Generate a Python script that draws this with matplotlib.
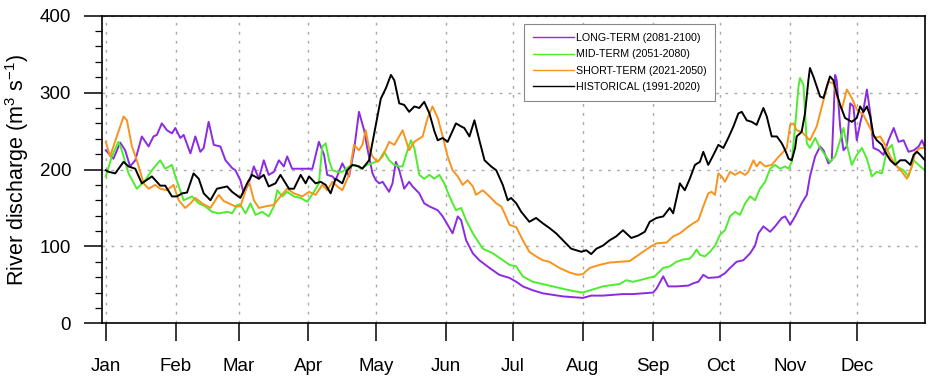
import matplotlib
matplotlib.use('Agg')
import matplotlib.pyplot as plt

plt.rcParams['font.family'] = ['Liberation Sans', 'DejaVu Sans']
plt.rcParams['mathtext.default'] = 'regular'

months = ['Jan', 'Feb', 'Mar', 'Apr', 'May', 'Jun', 'Jul', 'Aug', 'Sep', 'Oct', 'Nov', 'Dec']
month_start = [0, 31, 59, 90, 120, 151, 181, 212, 243, 273, 304, 334]

# day of year (Jan 1 = 0) / discharge
hist_days = [0, 1.2, 4.2, 7.9, 10.1, 13.1, 16, 20.5, 24.2, 26.4, 29.4, 31.6, 33.9, 36.1, 39, 41.3, 43.5, 46.5,
             49.4, 53.9, 56.1, 59.8, 62.8, 65, 68, 70.2, 72.4, 75.4, 77.6, 81.4, 83.6, 86.6, 88.8, 90.3, 93.2,
             95.5, 97.7, 99.9, 102.1, 105.1, 107.3, 109.6, 112.5, 114, 117, 120, 122.2, 124.5, 126.7, 128.2,
             130.4, 132.6, 134.8, 137.1, 139.3, 141.5, 143.8, 146, 147.5, 149.7, 151.9, 155.6, 157.9, 159.3,
             161.6, 163.8, 166, 168.3, 171.2, 173.5, 176.4, 178.6, 180.1, 182.4, 184.6, 188.2, 191.2, 194.2,
             197.1, 200.1, 203.8, 206.8, 209, 211.3, 213.5, 215.7, 218, 220.9, 223.9, 226.8, 229.8, 233.5,
             236.5, 239.5, 241.7, 244.7, 247.7, 250.6, 252.1, 255.1, 257.3, 259.5, 261.8, 264, 265.5, 267.7,
             270, 272.2, 274.4, 276.6, 278.9, 281.1, 282.6, 284.8, 287, 289.2, 292.2, 293.7, 295.9, 298.2,
             300.4, 301.9, 303.4, 304.8, 306.3, 307, 309.2, 310.7, 312.2, 312.9, 314.4, 315.9, 317.4, 318.9,
             320.4, 321.8, 323.3, 324.8, 326.3, 328.5, 331.5, 333.7, 335.2, 336.7, 338.2, 339.7, 341.1, 342.6,
             344.9, 346.3, 348.6, 350.8, 353, 355.3, 357.5, 359, 360.5, 361.9, 364]
hist_vals = [199, 197, 195, 210, 204, 201, 182, 191, 179, 179, 165, 165, 169, 170, 195, 188, 169, 160,
             175, 178, 171, 163, 182, 193, 188, 193, 178, 182, 193, 175, 175, 193, 182, 191, 182,
             184, 180, 169, 188, 182, 199, 206, 204, 201, 212, 258, 292, 306, 323, 316,
             286, 284, 275, 282, 280, 288, 273, 250, 238, 241, 236, 260, 256, 254,
             243, 264, 238, 212, 204, 199, 180, 160, 163, 156, 145, 132, 137, 130,
             124, 117, 106, 97, 95, 93, 95, 90, 97, 101, 108, 113, 121, 111,
             114, 119, 132, 137, 139, 150, 143, 182, 173, 188, 206, 210, 223, 206,
             219, 232, 228, 241, 256, 273, 275, 264, 262, 258, 280, 269, 243, 243,
             234, 225, 214, 212, 228, 243, 249, 273, 316, 332, 321, 308, 295, 293,
             308, 321, 316, 299, 284, 267, 262, 267, 282, 275, 282, 269, 245, 238,
             232, 223, 212, 206, 212, 212, 206, 219, 223, 219, 212]

short_days = [0, 1.9, 4.9, 7.9, 9.4, 11.6, 13.8, 16.8, 19, 22, 24.2, 27.2, 30.1, 32.4, 35.3, 37.6, 39.8, 42.8,
              46.5, 50.2, 52.4, 54.6, 57.6, 59.8, 61.3, 63.5, 65.8, 68, 71, 74.7, 77.6, 80.6, 83.6, 87.3, 90.3,
              93.2, 96.2, 98.4, 100.7, 102.9, 105.1, 108.1, 110.3, 112.5, 114, 115.5, 117, 118.5, 120.7, 123,
              125.9, 128.2, 131.9, 134.8, 137.1, 140.8, 143, 145.2, 147.5, 149.7, 151.9, 154.1, 156.4, 158.6,
              160.8, 163.1, 164.5, 167.5, 170.5, 173.5, 175.7, 177.2, 179.4, 182.4, 185.3, 188.2, 191.2, 194.2,
              197.1, 201.6, 206.1, 209.8, 212, 215, 219.4, 223.9, 228.3, 232.8, 235.8, 238.7, 241.7, 244.7,
              249.2, 252.1, 255.1, 258.1, 261, 263.3, 265.5, 267.7, 269.2, 270.7, 272.2, 273.7, 275.1, 277.4,
              279.6, 281.8, 284.1, 285.5, 287.8, 289.2, 290.7, 293, 295.9, 298.2, 300.4, 302.6, 304.1, 305.6,
              307, 309.2, 312.9, 315.9, 318.9, 321.1, 323.3, 325.6, 327, 329.3, 331.5, 333.7, 336.7, 338.9,
              341.9, 344.1, 346.3, 348.6, 351.5, 353.8, 356, 358.2, 359.7, 361.9, 364]
short_vals = [236, 217, 243, 269, 264, 230, 212, 182, 175, 180, 175, 173, 180, 160, 150, 156, 163, 156,
              150, 167, 159, 156, 152, 152, 165, 186, 160, 150, 152, 154, 165, 175, 169, 165, 171,
              167, 180, 173, 184, 178, 173, 193, 232, 225, 232, 251, 228, 217, 210, 217,
              236, 232, 251, 225, 236, 243, 267, 282, 267, 243, 217, 199, 191, 180,
              186, 178, 167, 173, 165, 156, 152, 143, 128, 125, 108, 93, 87, 82,
              80, 72, 66, 63, 64, 72, 76, 79, 80, 81, 87, 93, 99, 104,
              105, 113, 117, 124, 130, 134, 152, 169, 171, 167, 195, 191, 184, 197,
              193, 197, 193, 197, 212, 204, 210, 204, 206, 214, 221, 228, 258, 260,
              251, 249, 238, 256, 290, 314, 312, 288, 278, 304, 293, 278, 271, 258,
              241, 243, 232, 217, 204, 197, 188, 204, 223, 228, 228]

mid_days = [0, 2.7, 5.6, 7.1, 10.1, 13.8, 17.5, 20.5, 24.2, 26.4, 29.4, 30.9, 34.6, 38.3, 41.3, 44.2, 47.2,
            50.2, 53.9, 56.1, 58.4, 59.8, 62.1, 64.3, 66.5, 69.5, 72.4, 74.7, 76.2, 78.4, 80.6, 83.6, 86.6,
            89.5, 92.5, 94.7, 96.2, 97.7, 99.2, 100.7, 102.9, 105.1, 108.1, 111.1, 113.3, 116.2, 120, 121.5,
            123.7, 125.9, 128.2, 130.4, 131.9, 133.4, 135.6, 137.1, 139.3, 141.5, 143.8, 146, 148.2, 150.4,
            152.7, 155.6, 157.9, 160.1, 163.1, 167.5, 172, 176.4, 179.4, 182.4, 185.3, 189.7, 194.2, 198.6,
            203.1, 207.5, 212, 216.5, 220.9, 225.4, 228.3, 231.3, 234.3, 237.2, 241, 243.9, 247.7, 250.6,
            253.6, 256.6, 259.5, 261, 262.5, 264, 266.2, 268.5, 270.7, 272.9, 275.1, 277.4, 279.6, 281.8,
            284.1, 286.3, 288.5, 290.7, 293, 295.2, 297.4, 299.6, 301.9, 303.4, 304.8, 306.3, 307.8, 308.5,
            310, 311.5, 312.9, 315.2, 317.4, 319.6, 321.8, 324.1, 326.3, 327.8, 329.3, 331.5, 333.7, 336,
            338.2, 340.4, 342.6, 344.9, 347.1, 349.3, 351.5, 354.5, 356.7, 359, 361.9, 364]
mid_vals = [191, 217, 236, 225, 195, 175, 186, 199, 212, 201, 206, 191, 160, 165, 156, 152, 145,
            143, 145, 143, 154, 154, 143, 156, 141, 145, 139, 152, 173, 165, 171, 165, 163,
            158, 171, 182, 230, 234, 212, 199, 197, 197, 204, 206, 201, 206, 210, 212,
            223, 212, 206, 204, 204, 219, 238, 228, 193, 188, 193, 188, 193, 182,
            165, 147, 150, 134, 117, 97, 91, 82, 76, 74, 61, 54, 51, 48,
            45, 42, 40, 44, 48, 50, 51, 56, 54, 56, 59, 61, 72, 74,
            80, 83, 84, 89, 96, 89, 87, 93, 101, 115, 121, 139, 145, 141,
            156, 165, 160, 175, 184, 201, 206, 201, 204, 201, 210, 256, 308, 319,
            310, 234, 228, 241, 228, 219, 210, 217, 238, 254, 232, 206, 219, 228,
            214, 191, 197, 195, 225, 232, 204, 199, 191, 212, 204, 199]

long_days = [0, 3.4, 6.4, 8.6, 10.8, 13.1, 16, 19, 21.2, 22.7, 24.9, 27.2, 29.4, 30.9, 33.1, 34.6, 37.6,
             39.8, 42, 43.5, 45.7, 48, 50.9, 53.2, 56.1, 57.6, 59.8, 61.3, 63.5, 65.8, 68, 70.2, 72.4, 74.7,
             76.9, 79.1, 80.6, 82.8, 85.8, 88.8, 91.8, 94.7, 97, 98.4, 100.7, 102.1, 105.1, 108.1, 110.3,
             112.5, 114.8, 116.2, 118.5, 120, 121.5, 123, 125.9, 127.4, 128.9, 130.4, 132.6, 134.8, 136.3,
             139.3, 141.5, 143.8, 147.5, 149.7, 151.9, 154.1, 156.4, 157.9, 160.1, 163.1, 166, 170.5, 174.9,
             179.4, 182.4, 185.3, 189.7, 194.2, 198.6, 203.1, 207.5, 212, 215.7, 220.9, 225.4, 229.8, 234.3,
             238.7, 243.2, 244.7, 247.7, 249.9, 253.6, 258.8, 261, 263.3, 265.5, 267.7, 272.2, 275.1, 277.4,
             280.3, 283.3, 286.3, 288.5, 290, 292.2, 295.2, 297.4, 300.4, 301.9, 304.1, 306.3, 307, 309.2,
             311.5, 312.9, 315.2, 317.4, 318.9, 321.1, 322.6, 324.1, 324.8, 326.3, 327.8, 329.3, 330.8,
             332.2, 333.7, 335.2, 336.7, 338.2, 339.7, 341.1, 343.4, 345.6, 347.8, 350.1, 352.3, 354.5,
             356.7, 359, 361.2, 362.7, 364]
long_vals = [225, 214, 235, 225, 204, 212, 243, 230, 243, 245, 260, 251, 247, 254, 241, 245, 221,
             243, 223, 228, 262, 232, 230, 212, 202, 199, 186, 169, 182, 204, 188, 212, 193, 197,
             212, 204, 217, 201, 201, 201, 201, 236, 219, 193, 191, 186, 208, 191, 225,
             275, 251, 228, 195, 186, 182, 184, 171, 182, 210, 199, 175, 184, 178,
             169, 156, 152, 147, 139, 128, 117, 139, 134, 108, 91, 82, 72, 63,
             59, 54, 48, 43, 39, 37, 35, 34, 33, 36, 36, 37, 38, 38,
             39, 40, 45, 61, 48, 48, 49, 52, 54, 63, 59, 60, 65, 72,
             80, 82, 91, 101, 117, 126, 119, 126, 137, 139, 128, 139, 143, 156,
             167, 191, 217, 230, 225, 208, 212, 323, 316, 256, 225, 230, 286,
             282, 238, 260, 278, 304, 273, 228, 225, 219, 238, 254, 236, 238,
             223, 225, 230, 238, 228]

series = [
    (long_days, long_vals, '#8a2be2', 'LONG-TERM (2081-2100)'),
    (mid_days, mid_vals, '#4ded2c', 'MID-TERM (2051-2080)'),
    (short_days, short_vals, '#f7941d', 'SHORT-TERM (2021-2050)'),
    (hist_days, hist_vals, 'black', 'HISTORICAL (1991-2020)'),
]

fig = plt.figure(figsize=(9.36, 3.87), dpi=100)
ax = fig.add_axes([0.1087, 0.1646, 0.8795, 0.7948])

for d, v, c, lab in series:
    ax.plot(d, v, color=c, lw=1.4, label=lab)

ax.set_xlim(-1.8, 364)
ax.set_ylim(0, 400)
ax.set_xticks(month_start)
ax.set_xticklabels(months)
ax.set_yticks([0, 100, 200, 300, 400])
ax.set_yticks(range(0, 401, 20), minor=True)
ax.tick_params(axis='both', which='major', direction='out', length=13, width=1.1,
               labelsize=13.5, top=False, right=False)
ax.tick_params(axis='x', pad=12)
ax.tick_params(axis='y', pad=9)
ax.tick_params(axis='y', which='minor', direction='out', length=5, width=0.9, right=False)
ax.tick_params(axis='x', which='minor', bottom=False)
for s in ax.spines.values():
    s.set_linewidth(1.2)

ax.grid(True, which='major', color='#a8a8a8', lw=1, linestyle=(0, (2, 4.5)))
ax.set_axisbelow(True)

ax.set_ylabel('River discharge (m$^3$ s$^{-1}$)', fontsize=15.5, labelpad=6)

leg = ax.legend(loc='upper left', bbox_to_anchor=(0.513, 0.972), borderaxespad=0,
                fontsize=7.7, handlelength=3.9, handletextpad=0.15, labelspacing=0.6,
                borderpad=0.8, fancybox=False, framealpha=1, edgecolor='#888888')
leg.get_frame().set_linewidth(0.8)
for h in leg.get_lines():
    h.set_linewidth(1.0)

fig.savefig('out.png', dpi=100)
